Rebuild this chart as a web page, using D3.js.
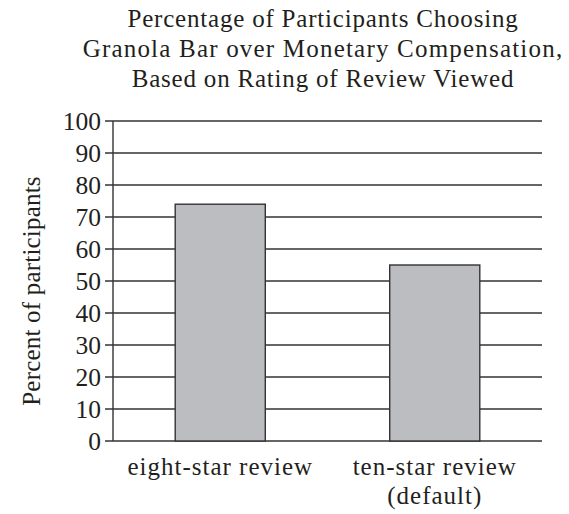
<!DOCTYPE html>
<html>
<head>
<meta charset="utf-8">
<script src="https://cdn.jsdelivr.net/npm/d3@7"></script>
<style>
  body { margin: 0; background: #fff; }
  text { font-family: "Liberation Serif", "DejaVu Serif", serif; fill: #231f20; }
</style>
</head>
<body>
<svg id="chart" width="569" height="514"></svg>
<script>
// data
var categories = ["eight-star review", "ten-star review (default)"];
var categoryLines = [["eight-star review"], ["ten-star review", "(default)"]];
var percents = [74, 55];
var yTicks = [0, 10, 20, 30, 40, 50, 60, 70, 80, 90, 100];
var titleLines = [
  "Percentage of Participants Choosing",
  "Granola Bar over Monetary Compensation,",
  "Based on Rating of Review Viewed"
];

var svg = d3.select("#chart");
var margin = {left: 113, right: 27, top: 121, bottom: 73};
var width = 569 - margin.left - margin.right,
    height = 514 - margin.top - margin.bottom;

var g = svg.append("g").attr("transform", "translate(" + margin.left + "," + margin.top + ")");

var x = d3.scaleBand()
  .domain(categories)
  .range([0, width])
  .paddingInner(0.58)
  .paddingOuter(0.29);

var y = d3.scaleLinear().domain([0, 100]).range([height, 0]);

// gridlines
g.selectAll(".grid")
  .data(yTicks)
  .enter().append("line")
  .attr("x1", -8)
  .attr("x2", width)
  .attr("y1", function(d) { return y(d); })
  .attr("y2", function(d) { return y(d); })
  .attr("stroke", "#333")
  .attr("stroke-width", 1.4);

// y tick labels
g.selectAll(".ytick")
  .data(yTicks)
  .enter().append("text")
  .attr("x", -12)
  .attr("y", function(d) { return y(d); })
  .attr("dy", "0.34em")
  .attr("text-anchor", "end")
  .attr("font-size", 25.5)
  .text(function(d) { return d; });

// y axis line
g.append("line")
  .attr("x1", 0).attr("x2", 0)
  .attr("y1", y(100)).attr("y2", y(0))
  .attr("stroke", "#333")
  .attr("stroke-width", 1.4);

// bars
g.selectAll(".bar")
  .data(percents)
  .enter().append("rect")
  .attr("x", function(d, i) { return x(categories[i]); })
  .attr("y", function(d) { return y(d); })
  .attr("width", x.bandwidth())
  .attr("height", function(d) { return height - y(d); })
  .attr("fill", "#bcbdc0")
  .attr("stroke", "#333")
  .attr("stroke-width", 1.4);

// x labels
categoryLines.forEach(function(lines, i) {
  var cx = x(categories[i]) + x.bandwidth() / 2;
  lines.forEach(function(t, j) {
    g.append("text")
      .attr("x", cx)
      .attr("y", height + 34 + j * 29)
      .attr("text-anchor", "middle")
      .attr("font-size", 25)
      .attr("letter-spacing", 1)
      .text(t);
  });
});

// y axis title
svg.append("text")
  .attr("transform", "translate(40,291) rotate(-90)")
  .attr("text-anchor", "middle")
  .attr("font-size", 25)
  .attr("letter-spacing", 0.2)
  .text("Percent of participants");

// chart title
svg.selectAll(".title")
  .data(titleLines)
  .enter().append("text")
  .attr("x", 323)
  .attr("y", function(d, i) { return 27 + i * 30; })
  .attr("text-anchor", "middle")
  .attr("font-size", 25)
  .attr("letter-spacing", function(d, i) { return i === 1 ? 1.2 : 0.8; })
  .text(function(d) { return d; });
</script>
</body>
</html>
